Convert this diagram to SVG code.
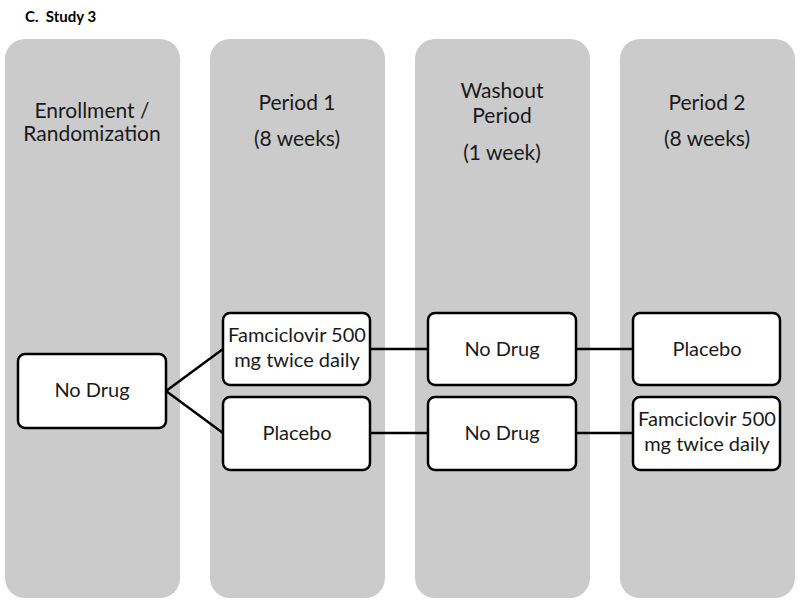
<svg xmlns="http://www.w3.org/2000/svg" width="800" height="603" viewBox="0 0 800 603">
<style>
.col{fill:#cbcbcb}
.node{fill:#fff;stroke:#000;stroke-width:2.5}
.t{font-family:Lato,"Open Sans","Liberation Sans",sans-serif;font-size:21px;fill:#1a1a1a;text-anchor:middle}
.n{font-family:Lato,"Open Sans","Liberation Sans",sans-serif;font-size:20px;fill:#1a1a1a;text-anchor:middle}
.e{stroke:#000;stroke-width:2.5;fill:none}
</style>
<rect width="800" height="603" fill="#fff"/>
<text x="25" y="22" font-family="Lato,'Liberation Sans',sans-serif" font-size="15" font-weight="bold" fill="#000" xml:space="preserve">C.  Study 3</text>
<g id="col1"><rect class="col" x="5" y="39" width="175" height="559" rx="20"/>
<text class="t" x="92" y="118">Enrollment /</text><text class="t" x="92" y="141">Randomization</text></g>
<g id="col2"><rect class="col" x="210" y="39" width="175" height="559" rx="20"/>
<text class="t" x="297" y="110">Period 1</text><text class="t" x="297" y="146">(8 weeks)</text></g>
<g id="col3"><rect class="col" x="415" y="39" width="175" height="559" rx="20"/>
<text class="t" x="502" y="98">Washout</text><text class="t" x="502" y="123">Period</text><text class="t" x="502" y="160">(1 week)</text></g>
<g id="col4"><rect class="col" x="620" y="39" width="175" height="559" rx="20"/>
<text class="t" x="707" y="110">Period 2</text><text class="t" x="707" y="146">(8 weeks)</text></g>
<g id="connectors">
<line class="e" x1="166" y1="391" x2="223" y2="349"/>
<line class="e" x1="166" y1="391" x2="223" y2="433"/>
<line class="e" x1="370" y1="349" x2="428" y2="349"/>
<line class="e" x1="370" y1="433" x2="428" y2="433"/>
<line class="e" x1="576" y1="349" x2="633" y2="349"/>
<line class="e" x1="576" y1="433" x2="633" y2="433"/>
</g>
<g id="n0"><rect class="node" x="18" y="354" width="148" height="74" rx="7"/><text class="n" x="92" y="397">No Drug</text></g>
<g id="n1"><rect class="node" x="223" y="313" width="147" height="72" rx="7"/><text class="n" x="297" y="342">Famciclovir 500</text><text class="n" x="297" y="367">mg twice daily</text></g>
<g id="n2"><rect class="node" x="223" y="397" width="147" height="73" rx="7"/><text class="n" x="297" y="440">Placebo</text></g>
<g id="n3"><rect class="node" x="428" y="313" width="148" height="72" rx="7"/><text class="n" x="502" y="356">No Drug</text></g>
<g id="n4"><rect class="node" x="428" y="397" width="148" height="73" rx="7"/><text class="n" x="502" y="440">No Drug</text></g>
<g id="n5"><rect class="node" x="633" y="313" width="147" height="72" rx="7"/><text class="n" x="707" y="356">Placebo</text></g>
<g id="n6"><rect class="node" x="633" y="397" width="147" height="73" rx="7"/><text class="n" x="707" y="426">Famciclovir 500</text><text class="n" x="707" y="451">mg twice daily</text></g>
</svg>
